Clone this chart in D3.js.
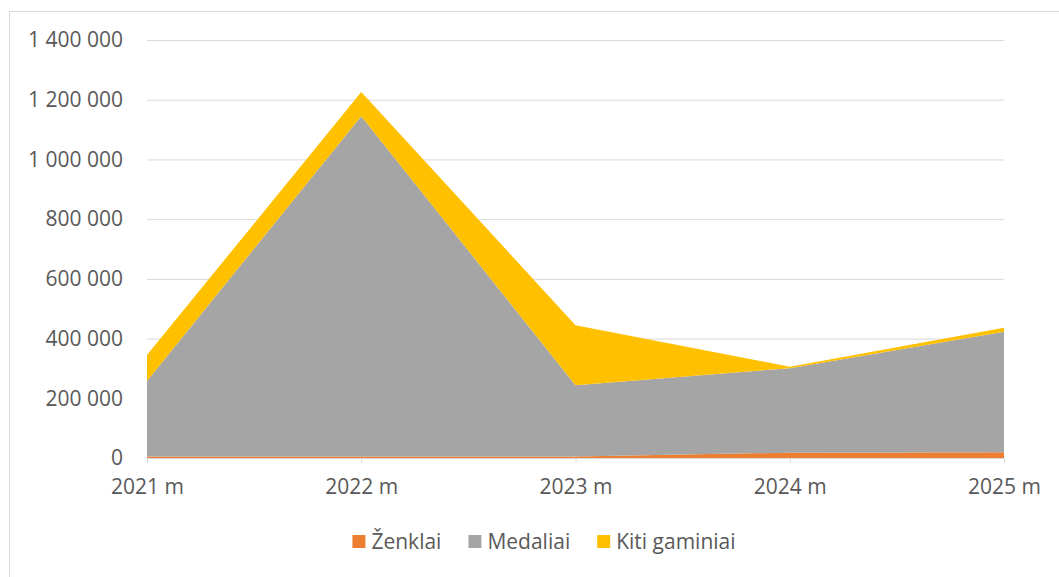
<!DOCTYPE html>
<html>
<head>
<meta charset="utf-8">
<script src="https://cdn.jsdelivr.net/npm/d3@7"></script>
<style>
  body { margin: 0; background: #fff; }
  text { font-family: "Open Sans", sans-serif; fill: #595959; }
</style>
</head>
<body>
<div id="chart"></div>
<script>
const years = ["2021 m", "2022 m", "2023 m", "2024 m", "2025 m"];
const zenklai = [5000, 5000, 5000, 18000, 19000];
const medaliai = [253000, 1140000, 239000, 283000, 404000];
const kiti = [87000, 81000, 201000, 5000, 13000];
const seriesNames = ["Ženklai", "Medaliai", "Kiti gaminiai"];
const colors = ["#ED7D31", "#A5A5A5", "#FFC000"];
const yTicks = [0, 200000, 400000, 600000, 800000, 1000000, 1200000, 1400000];

const w = 1059, h = 577;
const plotL = 147, plotR = 1004, plotT = 40, plotB = 458;

const svg = d3.select("#chart").append("svg")
  .attr("width", w)
  .attr("height", h);

svg.append("rect")
  .attr("x", 9.5).attr("y", 11.5)
  .attr("width", 1070).attr("height", 600)
  .attr("fill", "#fff")
  .attr("stroke", "#d9d9d9");

const x = d3.scalePoint().domain(years).range([plotL, plotR]);
const y = d3.scaleLinear().domain([0, 1400000]).range([plotB, plotT]);

// gridlines + y labels
const yAxis = svg.append("g")
  .attr("transform", `translate(${plotL},0)`)
  .call(d3.axisLeft(y)
    .tickValues(yTicks)
    .tickSize(-(plotR - plotL))
    .tickPadding(24)
    .tickFormat(d => d3.format(",")(d).replace(/,/g, " ")));
yAxis.select(".domain").remove();
yAxis.selectAll(".tick line").attr("stroke", "#d9d9d9");
yAxis.selectAll(".tick text").style("font-size", "21px").attr("fill", "#595959");

// x axis (under the areas)
const xAxis = svg.append("g")
  .attr("transform", `translate(0,${plotB})`)
  .call(d3.axisBottom(x).tickSize(5).tickPadding(16));
xAxis.select(".domain").attr("stroke", "#d9d9d9");
xAxis.selectAll(".tick line").attr("stroke", "#d9d9d9");
xAxis.selectAll(".tick text").style("font-size", "21px").attr("fill", "#595959");

const table = years.map((yr, i) => ({
  year: yr,
  "Ženklai": zenklai[i],
  "Medaliai": medaliai[i],
  "Kiti gaminiai": kiti[i]
}));

const stacked = d3.stack().keys(seriesNames)(table);

const area = d3.area()
  .x(d => x(d.data.year))
  .y0(d => y(d[0]))
  .y1(d => y(d[1]));

svg.selectAll(".layer")
  .data(stacked)
  .join("path")
    .attr("class", "layer")
    .attr("fill", (d, i) => colors[i])
    .attr("d", area);

// legend
const legend = svg.append("g").attr("class", "legend");
const items = legend.selectAll("g")
  .data(seriesNames)
  .join("g");
items.append("rect")
  .attr("width", 13).attr("height", 13)
  .attr("y", 535)
  .attr("fill", (d, i) => colors[i]);
items.append("text")
  .attr("x", 19)
  .attr("y", 549)
  .style("font-size", "21px")
  .text(d => d);

let offset = 0;
const gaps = [];
items.each(function () {
  const tw = d3.select(this).select("text").node().getComputedTextLength();
  gaps.push(offset);
  offset += 19 + tw + 27;
});
offset -= 27;
const startX = 544 - offset / 2;
items.attr("transform", (d, i) => `translate(${startX + gaps[i]},0)`);
</script>
</body>
</html>
